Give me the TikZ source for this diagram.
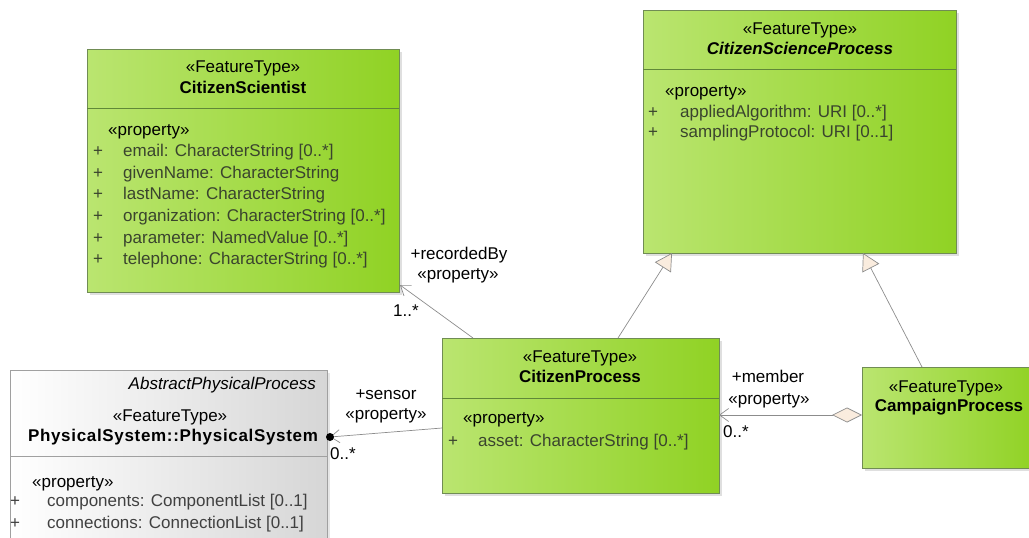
\documentclass[tikz,border=0pt]{standalone}
\usepackage{fontspec}
\setmainfont{Liberation Sans}
\usetikzlibrary{arrows.meta,calc,shadows}
\definecolor{greenL}{RGB}{186,229,112}
\definecolor{greenR}{RGB}{144,210,36}
\definecolor{greenBorder}{RGB}{112,140,84}
\definecolor{greenDiv}{RGB}{96,136,56}
\definecolor{grayL}{RGB}{255,255,255}
\definecolor{grayR}{RGB}{214,214,214}
\definecolor{grayBorder}{RGB}{160,160,160}
\definecolor{attrText}{RGB}{58,68,46}
\definecolor{attrGray}{RGB}{64,64,64}
\definecolor{lineGray}{RGB}{140,140,140}
\definecolor{tipFill}{RGB}{250,236,222}
\tikzset{
  greenbox/.style={draw=greenBorder, line width=0.7pt, left color=greenL, right color=greenR,
    drop shadow={opacity=0.25, shadow xshift=3pt, shadow yshift=-3pt},
    anchor=north west, inner sep=0pt, outer sep=0pt},
  graybox/.style={draw=grayBorder, line width=0.7pt, left color=grayL, right color=grayR,
    drop shadow={opacity=0.2, shadow xshift=3pt, shadow yshift=-3pt},
    anchor=north west, inner sep=0pt, outer sep=0pt},
  divider/.style={draw=greenDiv, line width=0.7pt},
  graydivider/.style={draw=grayBorder, line width=0.7pt},
  txt/.style={inner sep=0pt, font=\fontsize{17}{20}\selectfont, text height=12.5pt, text depth=3.5pt},
  stereo/.style={txt, anchor=center},
  title/.style={txt, anchor=center, font=\fontsize{17}{20}\selectfont\bfseries},
  prop/.style={txt, anchor=west},
  plus/.style={txt, anchor=center, text=attrText},
  attr/.style={txt, anchor=west, text=attrText},
  gplus/.style={txt, anchor=center, text=attrGray},
  gattr/.style={txt, anchor=west, text=attrGray},
  lbl/.style={txt, anchor=center},
  conn/.style={draw=lineGray, line width=0.7pt},
  barb/.style={-{Straight Barb[length=9pt,width=13pt,line width=0.7pt]}},
  gen/.style={-{Triangle[length=17pt,width=19pt,fill=tipFill,line width=0.7pt]}},
}
\begin{document}
\begin{tikzpicture}[x=1pt,y=-1pt]
\useasboundingbox (0,0) rectangle (1029,538);

% ---- boxes ----
\node[greenbox, minimum width=312pt, minimum height=243pt] (cs) at (87,49) {};
\node[greenbox, minimum width=313pt, minimum height=243pt] (csp) at (643,10) {};
\node[graybox, minimum width=317pt, minimum height=185pt] (ps) at (10,370) {};
\node[greenbox, minimum width=277pt, minimum height=155pt] (cp) at (442,338) {};
\node[greenbox, minimum width=174pt, minimum height=101pt] (camp) at (862,367) {};

% ---- dividers ----
\draw[divider] ($(cs.north west)+(0,59)$) -- ($(cs.north east)+(0,59)$);
\draw[divider] ($(csp.north west)+(0,59)$) -- ($(csp.north east)+(0,59)$);
\draw[graydivider] ($(ps.north west)+(0,86)$) -- ($(ps.north east)+(0,86)$);
\draw[divider] ($(cp.north west)+(0,60)$) -- ($(cp.north east)+(0,60)$);

% ---- CitizenScientist ----
\node[stereo] (csS) at (243,68) {«FeatureType»};
\node[title] (csT) at (243,89) {CitizenScientist};
\node[prop] (csP) at (108,131) {«property»};
\node[plus] (csp1) at (98,152) {+};
\node[attr] (csa1) at (123,152) {email: CharacterString [0..*]};
\node[plus] (csp2) at (98,174) {+};
\node[attr] (csa2) at (123,174) {givenName: CharacterString};
\node[plus] (csp3) at (98,195) {+};
\node[attr] (csa3) at (123,195) {lastName: CharacterString};
\node[plus] (csp4) at (98,217) {+};
\node[attr] (csa4) at (123,217) {organization: CharacterString [0..*]};
\node[plus] (csp5) at (98,239) {+};
\node[attr] (csa5) at (123,239) {parameter: NamedValue [0..*]};
\node[plus] (csp6) at (98,260) {+};
\node[attr] (csa6) at (123,260) {telephone: CharacterString [0..*]};

% ---- CitizenScienceProcess ----
\node[stereo] (cspS) at (800,30) {«FeatureType»};
\node[title, font=\fontsize{17}{20}\selectfont\bfseries\itshape] (cspT) at (800,50) {CitizenScienceProcess};
\node[prop] (cspP) at (665,92) {«property»};
\node[plus] (cspp1) at (653,113) {+};
\node[attr] (cspa1) at (680,113) {appliedAlgorithm: URI [0..*]};
\node[plus] (cspp2) at (653,133) {+};
\node[attr] (cspa2) at (680,133) {samplingProtocol: URI [0..1]};

% ---- PhysicalSystem ----
\node[txt, anchor=east, font=\fontsize{17}{20}\selectfont\itshape] (psA) at (316,385) {AbstractPhysicalProcess};
\node[stereo] (psS) at (170,417) {«FeatureType»};
\node[title, font=\fontsize{17}{20}\selectfont\bfseries\addfontfeature{LetterSpace=4}] (psT) at (173,437) {PhysicalSystem::PhysicalSystem};
\node[prop] (psP) at (32,483) {«property»};
\node[gplus] (psp1) at (15,502) {+};
\node[gattr] (psa1) at (47,502) {components: ComponentList [0..1]};
\node[gplus] (psp2) at (15,524) {+};
\node[gattr] (psa2) at (47,524) {connections: ConnectionList [0..1]};

% ---- CitizenProcess ----
\node[stereo] (cpS) at (580,358) {«FeatureType»};
\node[title] (cpT) at (580,378) {CitizenProcess};
\node[prop] (cpP) at (463,419) {«property»};
\node[plus] (cpp1) at (453,442) {+};
\node[attr] (cpa1) at (478,442) {asset: CharacterString [0..*]};

% ---- CampaignProcess ----
\node[stereo] (campS) at (946,388) {«FeatureType»};
\node[title] (campT) at (949,407) {CampaignProcess};

% ---- connectors ----
% recordedBy
\draw[conn, barb] ($(cp.north west)+(31,0)$) -- ($(cs.south east)+(1,-7)$);
\node[lbl] (rbL) at (459,255) {+recordedBy};
\node[lbl] (rbP) at (458,275) {«property»};
\node[lbl] (rbM) at (406,312) {1..*};

% generalizations
\draw[conn, gen] ($(cp.north west)+(176,0)$) -- ($(csp.south west)+(29,0)$);
\draw[conn, gen] ($(camp.north west)+(60,0)$) -- ($(csp.south west)+(220,0)$);

% member (aggregation)
\draw[conn, {Diamond[length=30pt,width=15pt,fill=tipFill,line width=0.7pt]}-{Straight Barb[length=9pt,width=13pt,line width=0.7pt]}]
  ($(camp.north west)+(0,48)$) -- ($(cp.north east)+(0,77)$);
\node[lbl] (mbL) at (768,378) {+member};
\node[lbl] (mbP) at (769,400) {«property»};
\node[lbl] (mbM) at (736,433) {0..*};

% sensor
\coordinate (psdot) at ($(ps.north east)+(3,67)$);
\draw[conn, barb] ($(cp.north west)+(0,90)$) -- (psdot);
\fill (psdot) circle (4);
\node[lbl] (snL) at (386,395) {+sensor};
\node[lbl] (snP) at (386,415) {«property»};
\node[lbl] (snM) at (343,455) {0..*};
\end{tikzpicture}
\end{document}
